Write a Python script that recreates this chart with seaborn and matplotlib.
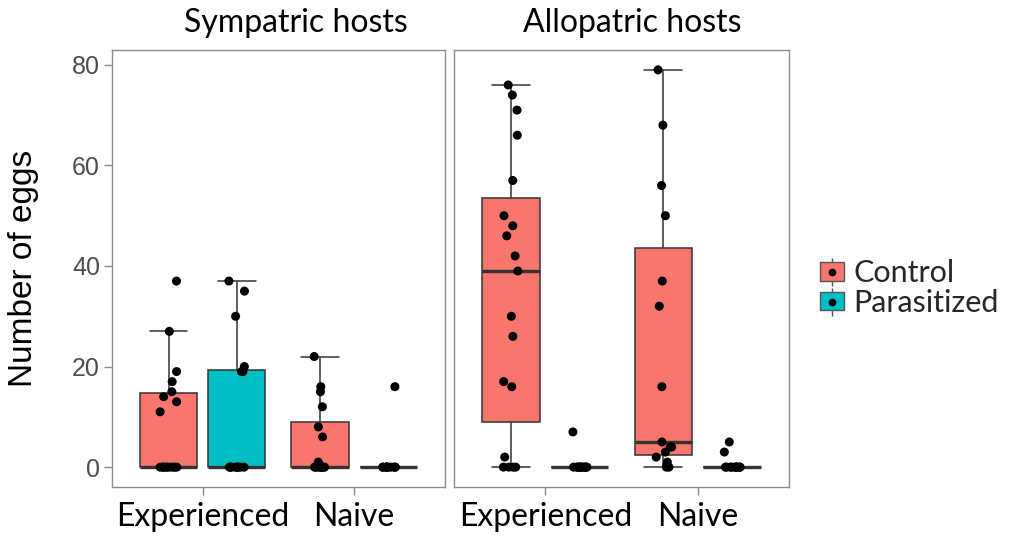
import numpy as np
import pandas as pd
import matplotlib
matplotlib.use("Agg")
import matplotlib.pyplot as plt
from matplotlib.patches import Patch
from matplotlib.lines import Line2D
from matplotlib.legend_handler import HandlerTuple
import seaborn as sns

# egg counts, one list per host / experience / treatment group
symp_exp_ctrl = [37, 27, 19, 17, 15, 14, 13, 11, 0, 0, 0, 0, 0, 0, 0, 0, 0, 0]
symp_exp_par = [37, 35, 30, 20, 19, 19, 0, 0, 0, 0, 0, 0, 0, 0, 0, 0]
symp_naive_ctrl = [22, 16, 15, 12, 8, 6, 1, 0, 0, 0, 0, 0, 0, 0, 0, 0]
symp_naive_par = [16, 0, 0, 0, 0, 0, 0, 0, 0, 0, 0, 0]
allo_exp_ctrl = [76, 74, 71, 66, 57, 50, 48, 46, 42, 39, 30, 26, 17, 16, 2, 0, 0, 0, 0]
allo_exp_par = [7, 0, 0, 0, 0, 0, 0, 0, 0, 0, 0, 0, 0, 0]
allo_naive_ctrl = [79, 68, 56, 50, 37, 32, 16, 5, 4, 4, 3, 2, 1, 0, 0]
allo_naive_par = [5, 3, 0, 0, 0, 0, 0, 0, 0, 0, 0, 0, 0, 0]

hosts = ["Sympatric hosts", "Allopatric hosts"]
experience = ["Experienced", "Naive"]
treatments = ["Control", "Parasitized"]
colors = {"Control": "#F8766D", "Parasitized": "#00BFC4"}

groups = {
    ("Sympatric hosts", "Experienced", "Control"): symp_exp_ctrl,
    ("Sympatric hosts", "Experienced", "Parasitized"): symp_exp_par,
    ("Sympatric hosts", "Naive", "Control"): symp_naive_ctrl,
    ("Sympatric hosts", "Naive", "Parasitized"): symp_naive_par,
    ("Allopatric hosts", "Experienced", "Control"): allo_exp_ctrl,
    ("Allopatric hosts", "Experienced", "Parasitized"): allo_exp_par,
    ("Allopatric hosts", "Naive", "Control"): allo_naive_ctrl,
    ("Allopatric hosts", "Naive", "Parasitized"): allo_naive_par,
}
rows = []
for (h, e, t), vals in groups.items():
    for v in vals:
        rows.append((h, e, t, v))
df = pd.DataFrame(rows, columns=["host", "experience", "treatment", "eggs"])

sns.set_style("white")
plt.rcParams["font.family"] = ["Lato", "DejaVu Sans"]

fig = plt.figure(figsize=(10.1, 5.38), dpi=100)
W, H = 1010.0, 538.0
ax1 = fig.add_axes([111.7 / W, 1 - 487 / H, 333.3 / W, 437 / H])
ax2 = fig.add_axes([454 / W, 1 - 487 / H, 335 / W, 437 / H])
title_x = [296, 632]

np.random.seed(4)
for i, (ax, h) in enumerate(zip([ax1, ax2], hosts)):
    sub = df[df.host == h]
    sns.boxplot(data=sub, x="experience", y="eggs", hue="treatment",
                order=experience, hue_order=treatments, palette=colors,
                saturation=1, width=0.9, gap=0.16, whis=1.5, showfliers=False,
                linewidth=1.1, linecolor="#333333",
                medianprops={"linewidth": 2.4, "color": "#333333"},
                capwidths=0.25, legend=False, ax=ax)
    sns.stripplot(data=sub, x="experience", y="eggs", hue="treatment",
                  order=experience, hue_order=treatments,
                  palette={"Control": "black", "Parasitized": "black"},
                  dodge=True, jitter=0.1, size=6.5, legend=False, ax=ax)
    # spread the dodged points out to the box centres (seaborn dodges points at +-0.2)
    for coll in ax.collections:
        off = coll.get_offsets()
        cat = np.round(off[:, 0])
        off[:, 0] = cat + (off[:, 0] - cat) * 1.125
        coll.set_offsets(off)

    ax.set_xlim(-0.6, 1.6)
    ax.set_ylim(-3.95, 82.95)
    ax.set_xlabel("")
    ax.set_ylabel("")
    for s in ax.spines.values():
        s.set_color("#8C8C8C")
        s.set_linewidth(1.0)
        s.set_visible(True)
    ax.tick_params(axis="x", bottom=True, length=5.5, width=1, color="#8C8C8C",
                   pad=5, labelsize=23, labelcolor="black")
    for lab in ax.get_xticklabels():
        lab.set_fontfamily(["Lato", "DejaVu Sans"])
    fig.text(title_x[i] / W, 1 - 32 / H, h, ha="center", va="baseline",
             fontsize=23, color="black")

ax1.set_yticks([0, 20, 40, 60, 80])
ax1.tick_params(axis="y", left=True, length=5.5, width=1, color="#8C8C8C",
                pad=3, labelsize=18, labelcolor="#4D4D4D")
for lab in ax1.get_yticklabels():
    lab.set_fontfamily(["Liberation Sans", "DejaVu Sans"])
ax2.set_yticks([0, 20, 40, 60, 80])
ax2.tick_params(axis="y", left=False, labelleft=False)

fig.text(24 / W, 1 - 268.5 / H, "Number of eggs", rotation=90, ha="center",
         va="center", fontsize=24, color="black",
         family=["Liberation Sans", "DejaVu Sans"])

handles = []
for t in treatments:
    whisker = Line2D([], [], linestyle="none", marker="|", markersize=20,
                     markeredgewidth=1, color="#555555")
    box = Patch(facecolor=colors[t], edgecolor="#555555", linewidth=1)
    dot = Line2D([], [], linestyle="none", marker="o", markersize=4.5,
                 markerfacecolor="black", markeredgecolor="black")
    handles.append((whisker, box, dot))
fig.legend(handles, treatments, loc="center left",
           bbox_to_anchor=(820 / W, 1 - 288 / H), frameon=False,
           handler_map={tuple: HandlerTuple(ndivide=1, pad=0)},
           handlelength=0.8, handleheight=0.55, handletextpad=0.3,
           labelspacing=0.05, borderaxespad=0, borderpad=0,
           prop={"family": "Lato", "size": 22})

plt.savefig("out.png", dpi=100)
